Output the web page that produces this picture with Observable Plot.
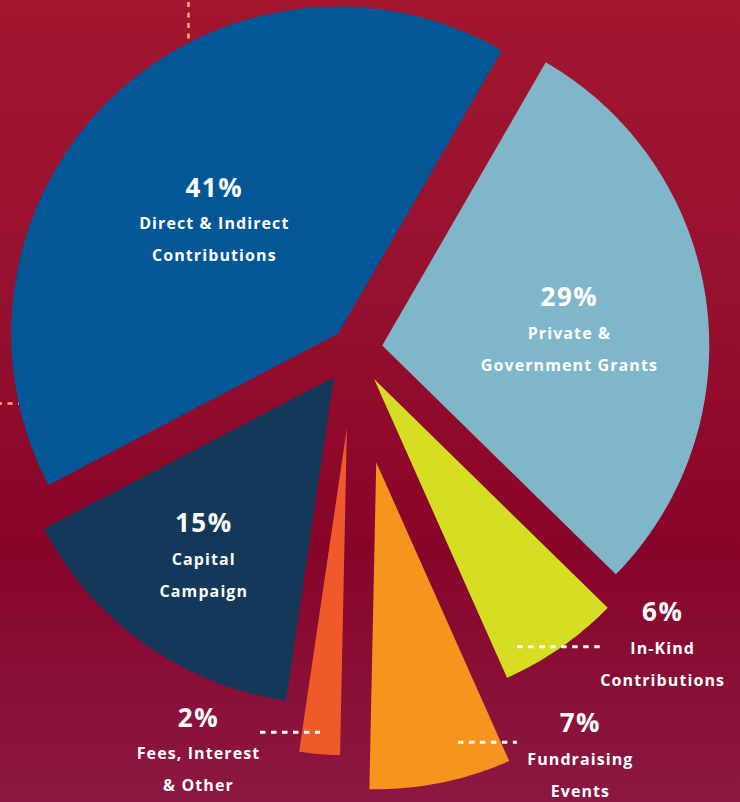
<!DOCTYPE html>
<html>
<head>
<meta charset="utf-8">
<script src="https://cdn.jsdelivr.net/npm/d3@7"></script>
<script src="https://cdn.jsdelivr.net/npm/@observablehq/plot@0.6"></script>
<style>
  html, body { margin: 0; padding: 0; }
  body {
    width: 740px; height: 802px; overflow: hidden;
    background: linear-gradient(to bottom, #a2162f 0%, #97112f 35%, #880429 68%, #8b1842 100%);
  }
  #chart svg { display: block; background: transparent; }
  #chart [font-size="16"] text, #chart text[font-size="16"] { letter-spacing: 1.1px; }
  #chart [font-size="26"] text, #chart text[font-size="26"] { letter-spacing: 1.5px; }
</style>
</head>
<body>
<div id="chart"></div>
<script>
// ---- data ----
const categories = [
  "Private &\nGovernment Grants",
  "In-Kind\nContributions",
  "Fundraising\nEvents",
  "Fees, Interest\n& Other",
  "Capital\nCampaign",
  "Direct & Indirect\nContributions"
];
const shares = [29, 6, 7, 2, 15, 41];
const sliceColors = ["#7fb6c9", "#d6de23", "#f7941e", "#f05a2a", "#13385a", "#035797"];

// ---- layout (styling only) ----
const W = 740, H = 802;
const CX = 353, CY = 349, R = 327, START = 30;       // degrees, clockwise from north
const explode = [29, 36, 115, 79, 34, 22];           // px each slice is pulled out
const labelShift = [-5.7, -14.8, -19.8, 18, 5.2, 3]; // deg, relative to slice middle
const labelRadius = [222, 406, 438, 400, 230, 213];
const leaders = [null, [34, -145, -59], [18, -122, -63], [14, 62, 122]]; // [dy, dx1, dx2]

const rad = d => d * Math.PI / 180;
const polar = (a, r) => [Math.sin(rad(a)) * r, -Math.cos(rad(a)) * r];

const total = d3.sum(shares);
let acc = START;
const slices = shares.map((v, i) => {
  const a0 = acc, a1 = acc + v / total * 360;
  acc = a1;
  const mid = (a0 + a1) / 2;
  const [ox, oy] = polar(mid, explode[i]);
  return {i, name: categories[i], value: v, color: sliceColors[i], a0, a1, mid, cx: CX + ox, cy: CY + oy};
});

// polygon points of each wedge
const pts = [];
for (const s of slices) {
  pts.push({name: s.name, color: s.color, x: s.cx, y: s.cy});
  const n = Math.max(8, Math.ceil((s.a1 - s.a0) / 0.5));
  for (let k = 0; k <= n; k++) {
    const a = s.a0 + (s.a1 - s.a0) * k / n;
    const [dx, dy] = polar(a, R);
    pts.push({name: s.name, color: s.color, x: s.cx + dx, y: s.cy + dy});
  }
}

// label anchors
const pctRows = [], lineRows = [], leaderRows = [];
for (const s of slices) {
  const [dx, dy] = polar(s.mid + labelShift[s.i], labelRadius[s.i]);
  const x = CX + dx, y = CY + dy;
  pctRows.push({x, y, text: `${s.value}%`});
  s.name.split("\n").forEach((t, j) => lineRows.push({x, y: y + 36 + j * 32, text: t}));
  const L = leaders[s.i];
  if (L) leaderRows.push({x1: x + L[1], x2: x + L[2], y: y + L[0]});
}

// decorative connectors leaving the frame
const connectorsV = [{x: 188, y1: 2, y2: 60}];
const connectorsH = [{y: 403, x1: -3, x2: 40}];

const FONT = "'Open Sans', 'DejaVu Sans', sans-serif";

const chart = Plot.plot({
  width: W, height: H, margin: 0,
  x: {domain: [0, W], range: [0, W], axis: null},
  y: {domain: [0, H], range: [0, H], axis: null},
  color: {type: "identity"},
  style: {background: "transparent"},
  marks: [
    Plot.ruleX(connectorsV, {x: "x", y1: "y1", y2: "y2", stroke: "#f7b46c", strokeWidth: 2.5, strokeDasharray: "5,5.5"}),
    Plot.ruleY(connectorsH, {y: "y", x1: "x1", x2: "x2", stroke: "#f7b46c", strokeWidth: 2.5, strokeDasharray: "5,5.5"}),
    Plot.line(pts, {x: "x", y: "y", z: "name", fill: "color", stroke: null, curve: "linear-closed"}),
    Plot.ruleY(leaderRows, {y: "y", x1: "x1", x2: "x2", stroke: "white", strokeWidth: 3, strokeDasharray: "5.5,5.5"}),
    Plot.text(pctRows, {x: "x", y: "y", text: "text", fill: "white", fontSize: 26, fontWeight: 700, fontFamily: FONT}),
    Plot.text(lineRows, {x: "x", y: "y", text: "text", fill: "white", fontSize: 16, fontWeight: 700, fontFamily: FONT})
  ]
});
document.getElementById("chart").appendChild(chart);
</script>
</body>
</html>
